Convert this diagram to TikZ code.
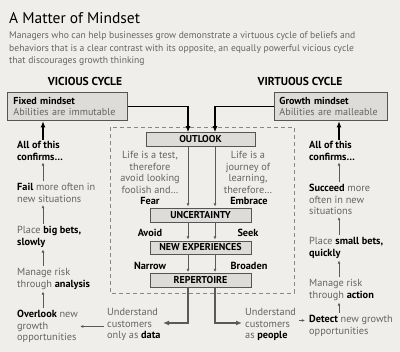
\documentclass[tikz,border=0pt]{standalone}
\usepackage{fontspec}
\setmainfont{PT Sans}
\usetikzlibrary{arrows.meta}
\definecolor{bg}{RGB}{239,238,234}
\definecolor{boxfill}{RGB}{221,220,216}
\definecolor{boxline}{RGB}{85,85,85}
\definecolor{graytext}{RGB}{100,100,100}
\definecolor{dashcol}{RGB}{135,135,135}
\definecolor{arrowgray}{RGB}{90,90,90}
\newcommand{\kw}[1]{\textcolor{black}{\bfseries #1}}
\tikzset{
  txt/.style={inner sep=0pt, anchor=base west, align=left, text=graytext,
    font=\fontsize{10.3}{11.6}\selectfont},
  ctxt/.style={txt, anchor=base, align=center},
  lbl/.style={inner sep=0pt, anchor=base, text=black,
    font=\bfseries\fontsize{10.3}{11}\selectfont},
  cbox/.style={draw=boxline, fill=boxfill, line width=0.8pt, inner sep=0pt,
    text=black, font=\bfseries\fontsize{10}{11}\selectfont},
  mbox/.style={draw=boxline, fill=boxfill, line width=0.8pt, inner ysep=0pt,
    align=left, text=graytext, font=\fontsize{10.1}{11.6}\selectfont},
  bigarr/.style={draw=black, line width=1.1pt, -{Latex[length=6pt,width=5pt]}},
  larr/.style={draw=arrowgray, line width=1.2pt, -{Latex[length=6pt,width=5pt]}},
  smarr/.style={draw=arrowgray, line width=0.6pt, -{Latex[length=3.2pt,width=2.8pt]}},
}
\begin{document}
\begin{tikzpicture}[x=1pt,y=-1pt]
\fill[bg] (0,0) rectangle (400,352);
\useasboundingbox (0,0) rectangle (400,352);

% title (multi-line nodes are placed by the baseline of their last line)
\node[inner sep=0pt, anchor=base west, font=\fontsize{15.5}{17}\selectfont] (title) at (9,24) {A Matter of Mindset};
\node[inner sep=0pt, anchor=base west, align=left, text=graytext, font=\fontsize{9.6}{12.4}\selectfont] (sub) at (9,63.8)
 {Managers who can help businesses grow demonstrate a virtuous cycle of beliefs and\\
  behaviors that is a clear contrast with its opposite, an equally powerful vicious cycle\\
  that discourages growth thinking};

% cycle headings
\node[inner sep=0pt, anchor=base, font=\bfseries\fontsize{11.5}{13}\selectfont] (vic) at (85,86) {VICIOUS CYCLE};
\node[inner sep=0pt, anchor=base, font=\bfseries\fontsize{11.5}{13}\selectfont] (vir) at (300,86) {VIRTUOUS CYCLE};

% mindset boxes
\node[mbox, anchor=north west, minimum height=28pt, text width=108pt, inner xsep=6pt] (fixed) at (7,92)
 {\mbox{\kw{Fixed mindset}}\\\mbox{Abilities are immutable}};
\node[mbox, anchor=north west, minimum height=28pt, text width=103pt, inner xsep=5pt] (growth) at (274,92)
 {\mbox{\kw{Growth mindset}}\\\mbox{Abilities are malleable}};

% dashed frame
\draw[dashcol, line width=0.8pt, dash pattern=on 4pt off 3pt] (110,127) rectangle (294,293);

% centre boxes
\node[cbox, minimum width=109pt, minimum height=14pt] (outlook) at (200.5,139.5) {OUTLOOK};
\node[cbox, minimum width=101pt, minimum height=14pt] (uncert) at (200.5,215) {UNCERTAINTY};
\node[cbox, minimum width=101pt, minimum height=13pt] (newexp) at (200.5,247.5) {NEW EXPERIENCES};
\node[cbox, minimum width=101pt, minimum height=14pt] (rep) at (200.5,280.5) {REPERTOIRE};

% centre texts
\node[ctxt] (lifel) at (150,193.3) {Life is a test,\\therefore\\avoid looking\\foolish and…};
\node[ctxt] (lifer) at (248,193.3) {Life is a\\journey of\\learning,\\therefore…};
\node[lbl] (fear) at (150,204.5) {Fear};
\node[lbl] (embrace) at (249,204.5) {Embrace};
\node[lbl] (avoid) at (150,236.5) {Avoid};
\node[lbl] (seek) at (248,236.5) {Seek};
\node[lbl] (narrow) at (150,269.5) {Narrow};
\node[lbl] (broaden) at (249,269.5) {Broaden};

% bottom texts
\node[txt] (data) at (107,338.7) {Understand\\customers\\only as \kw{data}};
\node[txt] (people) at (245,338.7) {Understand\\customers\\as \kw{people}};

% left column
\node[txt] (vall) at (17,160.1) {\kw{All of this}\\\kw{confirms…}};
\node[txt] (vfail) at (17,202.6) {\kw{Fail} more often in\\new situations};
\node[txt] (vplace) at (17,245.1) {Place \kw{big bets,}\\\kw{slowly}};
\node[txt] (vmanage) at (17,287.1) {Manage risk\\through \kw{analysis}};
\node[txt] (vover) at (17,340.7) {\kw{Overlook} new\\growth\\opportunities};

% right column
\node[txt] (rall) at (309,160.1) {\kw{All of this}\\\kw{confirms…}};
\node[txt] (rsucc) at (309,214.7) {\kw{Succeed} more\\often in new\\situations};
\node[txt] (rplace) at (309,256.1) {Place \kw{small bets,}\\\kw{quickly}};
\node[txt] (rmanage) at (309,298.1) {Manage risk\\through \kw{action}};
\node[txt] (rdetect) at (309,334.1) {\kw{Detect} new growth\\opportunities};

% helper coordinates
\coordinate (ax1) at (188,0);
\coordinate (ax2) at (215,0);
\coordinate (lx) at (43,0);
\coordinate (rx) at (339,0);
\coordinate (dtip) at (163,323);
\coordinate (ptip) at (242,323);
\coordinate (detin) at ([xshift=-4pt,yshift=-5.5pt]rdetect.north west);
\coordinate (pout) at ([xshift=3pt]people.east |- detin);
\coordinate (dout) at ([xshift=-3pt]data.west |- vover.east);
\coordinate (ovin) at ([xshift=2pt]vover.east);

% mindset to outlook
\draw[bigarr] (fixed.east) -| (outlook.north -| ax1);
\draw[bigarr] (growth.west) -| (outlook.north -| ax2);

% centre chain
\foreach \a/\b in {outlook/uncert, uncert/newexp, newexp/rep} {
  \draw[smarr, shorten >=1pt] (\a.south -| ax1) -- (\b.north -| ax1);
  \draw[smarr, shorten >=1pt] (\a.south -| ax2) -- (\b.north -| ax2);
}

% repertoire outputs
\draw[larr] (rep.south -| ax1) |- (dtip);
\draw[larr] (rep.south -| ax2) |- (ptip);

% to columns
\draw[smarr] (dout) -- (ovin);
\draw[smarr] (pout) -- (detin);

% left column arrows
\draw[bigarr, shorten <=1pt, shorten >=0.5pt] (vall.north -| lx) -- (fixed.south -| lx);
\foreach \a/\b in {vfail/vall, vplace/vfail, vmanage/vplace, vover/vmanage} {
  \draw[smarr, shorten <=2pt, shorten >=2pt] (\a.north -| lx) -- (\b.south -| lx);
}
% right column arrows
\draw[bigarr, shorten <=1pt, shorten >=0.5pt] (rall.north -| rx) -- (growth.south -| rx);
\foreach \a/\b in {rsucc/rall, rplace/rsucc, rmanage/rplace, rdetect/rmanage} {
  \draw[smarr, shorten <=2pt, shorten >=2pt] (\a.north -| rx) -- (\b.south -| rx);
}
\end{tikzpicture}
\end{document}
